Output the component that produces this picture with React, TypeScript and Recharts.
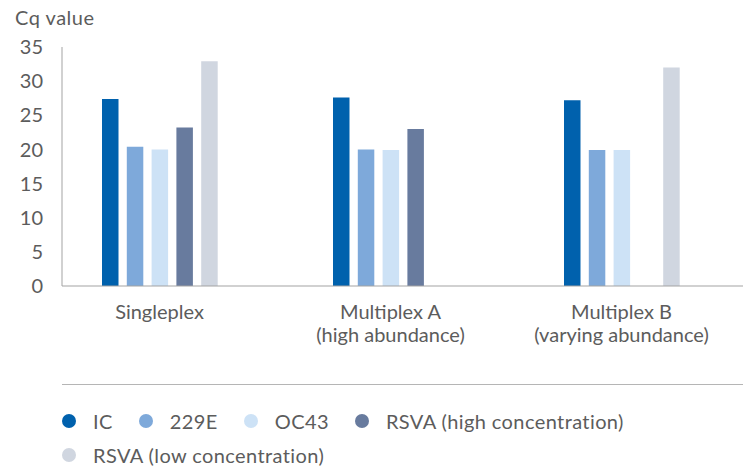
import React from "react"
import { Bar, BarChart, XAxis, YAxis, Legend } from "recharts"

const categories = ["Singleplex", "Multiplex A", "Multiplex B"]
const subLabels = ["", "(high abundance)", "(varying abundance)"]

const seriesNames = ["IC", "229E", "OC43", "RSVA (high concentration)", "RSVA (low concentration)"]

const ic = [27.4, 27.6, 27.2]
const e229 = [20.4, 20.0, 19.9]
const oc43 = [20.0, 19.9, 19.9]
const rsvaHigh = [23.2, 23.0, null]
const rsvaLow = [32.9, null, 32.0]

const yTicks = [0, 5, 10, 15, 20, 25, 30, 35]

const data = categories.map((name, i) => ({
  name,
  ic: ic[i],
  e229: e229[i],
  oc43: oc43[i],
  rsvaHigh: rsvaHigh[i],
  rsvaLow: rsvaLow[i],
}))

const FONT = "Lato, sans-serif"
const TEXT = "#5c5c5c"
const AXIS = "#a3a3a3"

function CategoryTick(props: any) {
  const { x, y, payload, index } = props
  const sub = subLabels[index]
  return (
    <text x={x} y={y} textAnchor="middle" fill={TEXT} fontSize={20} fontFamily={FONT}>
      <tspan x={x} dy={33}>{payload.value}</tspan>
      {sub ? <tspan x={x} dy={22.5}>{sub}</tspan> : null}
    </text>
  )
}

function renderLegend(props: any) {
  const items = [...props.payload].sort(
    (a: any, b: any) => seriesNames.indexOf(a.value) - seriesNames.indexOf(b.value)
  )
  return (
    <div style={{ borderTop: "1px solid #b5b5b5", paddingTop: 19, fontFamily: FONT }}>
      <div style={{ display: "flex", flexWrap: "wrap" }}>
        {items.map((entry: any) => (
          <div key={entry.value} style={{ display: "flex", alignItems: "center", height: 34, marginRight: 26 }}>
            <span style={{ width: 14, height: 14, borderRadius: "50%", background: entry.color, marginRight: 17, display: "inline-block" }} />
            <span style={{ fontSize: 20, color: TEXT, letterSpacing: 0.4 }}>{entry.value}</span>
          </div>
        ))}
      </div>
    </div>
  )
}

export default function App() {
  return (
    <div style={{ position: "absolute", left: 0, top: 0, width: 743, height: 468, background: "#fff" }}>
      <div style={{ position: "absolute", left: 15, top: 4, fontSize: 20, letterSpacing: 0.5, color: TEXT, fontFamily: FONT, lineHeight: "26px" }}>
        Cq value
      </div>
      <BarChart
        width={743}
        height={468}
        data={data}
        margin={{ top: 47, right: 0, bottom: 132, left: 0 }}
        barGap={8.3}
      >
        <XAxis
          dataKey="name"
          height={50}
          padding={{ left: -18, right: 6 }}
          tickLine={false}
          tickSize={0}
          tickMargin={0}
          axisLine={{ stroke: AXIS }}
          tick={<CategoryTick />}
          interval={0}
        />
        <YAxis
          width={62}
          domain={[0, 35]}
          ticks={yTicks}
          tickLine={false}
          tickSize={0}
          tickMargin={19}
          axisLine={{ stroke: AXIS }}
          tick={{ fill: TEXT, fontSize: 20, fontFamily: FONT }}
        />
        <Legend
          layout="horizontal"
          verticalAlign="middle"
          align="center"
          itemSorter={null}
          wrapperStyle={{ left: 62, top: 384, width: 681 }}
          content={renderLegend}
        />
        <Bar dataKey="ic" name={seriesNames[0]} fill="#0061ad" barSize={16.5} isAnimationActive={false} />
        <Bar dataKey="e229" name={seriesNames[1]} fill="#7ea9da" barSize={16.5} isAnimationActive={false} />
        <Bar dataKey="oc43" name={seriesNames[2]} fill="#cde2f6" barSize={16.5} isAnimationActive={false} />
        <Bar dataKey="rsvaHigh" name={seriesNames[3]} fill="#687b9e" barSize={16.5} isAnimationActive={false} />
        <Bar dataKey="rsvaLow" name={seriesNames[4]} fill="#d0d6e0" barSize={16.5} isAnimationActive={false} />
      </BarChart>
    </div>
  )
}
